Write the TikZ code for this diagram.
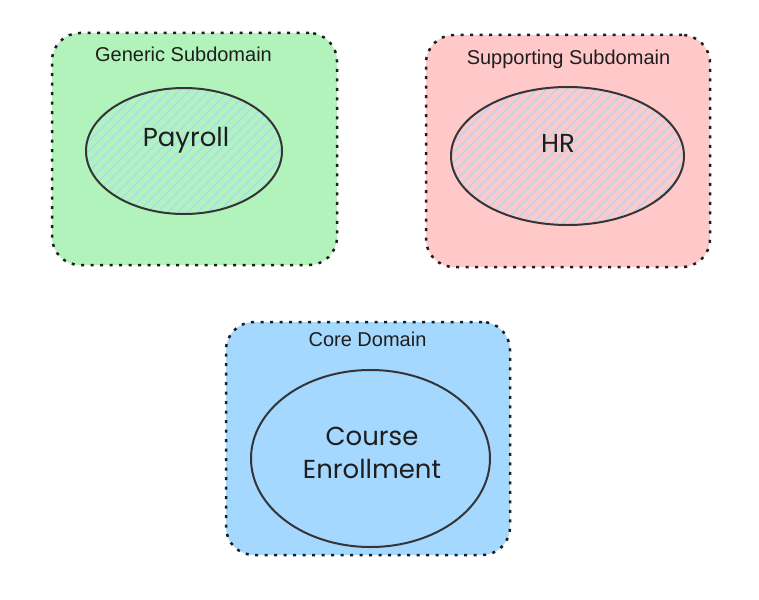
\documentclass[tikz,border=0pt]{standalone}
\usepackage{fontspec}
\setmainfont{Liberation Sans}
\newfontfamily\handfont{Poppins}
\usepackage{tikz}
\usetikzlibrary{shapes.geometric,positioning}
\definecolor{genericgreen}{HTML}{B2F2BB}
\definecolor{supportred}{HTML}{FFC9C9}
\definecolor{coreblue}{HTML}{A5D8FF}
\definecolor{inkgray}{HTML}{1E1E1E}

\tikzset{
    domainbox/.style={
        draw=inkgray,
        line width=2.5pt,
        dash pattern=on 3pt off 6.5pt,
        rounded corners=28pt,
        inner sep=0pt
    },
    boxtitle/.style={
        font=\fontsize{20}{24}\selectfont,
        text=inkgray
    },
    subdomain/.style={
        ellipse,
        draw=inkgray!90,
        line width=2pt,
        inner sep=0pt
    },
    hatched/.style={
        path picture={
            \foreach \k in {-240,-230,...,260}
                \draw[coreblue, line width=1.2pt]
                    ([xshift=\k pt]path picture bounding box.south west)
                    -- ++(260pt,260pt);
        }
    },
    handlabel/.style={
        font=\handfont\fontsize{26}{33}\selectfont,
        text=inkgray,
        align=center
    }
}

\begin{document}
\begin{tikzpicture}[x=1pt, y=-1pt]

    \useasboundingbox (0,0) rectangle (759,599);

    % Domain boxes
    \node[
        domainbox,
        fill=genericgreen,
        minimum width=285pt,
        minimum height=232pt
    ] (generic) at (194.5,149) {};
    \node[
        domainbox,
        fill=supportred,
        minimum width=284pt,
        minimum height=232pt
    ] (supporting) at (568,151) {};
    \node[
        domainbox,
        fill=coreblue,
        minimum width=284pt,
        minimum height=233pt
    ] (core) at (368,438.5) {};

    % Box titles
    \node[boxtitle] (generictitle) at (183.5,54) {Generic Subdomain};
    \node[boxtitle] (supportingtitle) at (568.5,59) {Supporting Subdomain};
    \node[boxtitle] (coretitle) at (367.5,339) {Core Domain};

    % Subdomains
    \node[
        subdomain,
        hatched,
        minimum width=196pt,
        minimum height=126pt
    ] (payroll) at (184,151) {};
    \node[
        subdomain,
        hatched,
        minimum width=233pt,
        minimum height=138pt
    ] (hr) at (567.5,156) {};
    \node[
        subdomain,
        fill=coreblue,
        minimum width=239pt,
        minimum height=177pt
    ] (enrollment) at (370.5,458.5) {};

    % Labels
    \node[handlabel] (payrolltext) at (186,140) {Payroll};
    \node[handlabel] (hrtext) at (558,143) {HR};
    \node[handlabel] (enrollmenttext) at (372,453) {Course\\Enrollment};

\end{tikzpicture}
\end{document}
